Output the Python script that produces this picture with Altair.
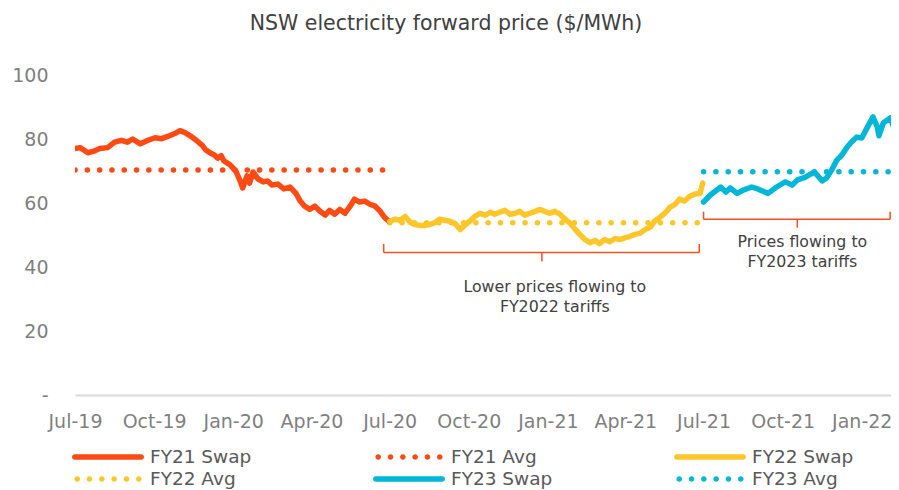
import altair as alt
import pandas as pd

# ---------------- data ----------------
fy21_dates = ["2019-07-01","2019-07-07","2019-07-16","2019-07-24","2019-07-30","2019-08-08","2019-08-16","2019-08-24","2019-08-31","2019-09-06","2019-09-15","2019-09-24","2019-10-02","2019-10-10","2019-10-17","2019-10-25","2019-10-31","2019-11-06","2019-11-12","2019-11-19","2019-11-26","2019-11-30","2019-12-05","2019-12-10","2019-12-14","2019-12-18","2019-12-21","2019-12-28","2020-01-04","2020-01-09","2020-01-12","2020-01-17","2020-01-20","2020-01-24","2020-01-30","2020-02-05","2020-02-10","2020-02-15","2020-02-22","2020-02-29","2020-03-07","2020-03-14","2020-03-19","2020-03-24","2020-03-30","2020-04-05","2020-04-11","2020-04-17","2020-04-22","2020-04-28","2020-05-04","2020-05-10","2020-05-16","2020-05-21","2020-05-27","2020-06-02","2020-06-08","2020-06-14","2020-06-20","2020-06-25","2020-06-30"]
fy21_values = [77,77.3,75.7,76.3,77,77.3,79,79.6,79,80,78.5,79.6,80.4,80.1,80.8,81.7,82.6,82,81,79.6,78,76.6,75.7,75,74,74.8,73.2,72,70,66.9,64.7,68.5,66.2,69.7,67.5,66.6,66.9,65.6,65.9,64.4,65,63,60.6,59,58,59,57.4,56.2,57.7,56.5,58,56.8,59,61.2,60.3,60.6,59.6,59,57.4,55.5,54.3]

fy22_dates = ["2020-07-01","2020-07-07","2020-07-13","2020-07-19","2020-07-25","2020-07-30","2020-08-05","2020-08-11","2020-08-17","2020-08-23","2020-08-28","2020-09-03","2020-09-09","2020-09-15","2020-09-21","2020-09-26","2020-10-02","2020-10-08","2020-10-14","2020-10-20","2020-10-26","2020-10-31","2020-11-06","2020-11-12","2020-11-18","2020-11-24","2020-11-29","2020-12-05","2020-12-11","2020-12-17","2020-12-23","2020-12-28","2021-01-03","2021-01-09","2021-01-15","2021-01-21","2021-01-27","2021-02-01","2021-02-07","2021-02-13","2021-02-19","2021-02-25","2021-03-02","2021-03-08","2021-03-14","2021-03-20","2021-03-26","2021-04-01","2021-04-06","2021-04-12","2021-04-18","2021-04-24","2021-04-30","2021-05-05","2021-05-11","2021-05-17","2021-05-23","2021-05-29","2021-06-03","2021-06-09","2021-06-15","2021-06-21","2021-06-27","2021-06-30"]
fy22_values = [54.3,54.9,54.6,55.8,53.9,53.3,53,53,53.3,53.9,54.9,54.6,54.3,53.6,51.7,53,54.3,55.8,56.8,56.2,57.1,56.5,57.1,57.7,56.5,56.8,57.4,56.2,56.8,57.4,58,57.4,56.8,57.4,56.5,54.9,53.6,52,50.2,48.6,47.6,48.3,47.3,48.6,47.9,48.9,48.6,49.2,49.5,50.2,50.5,51.7,52.4,54.3,55.5,56.8,58.7,59.6,61.2,60.6,62.1,62.8,63,66.2]

fy23_dates = ["2021-07-01","2021-07-09","2021-07-21","2021-07-27","2021-08-01","2021-08-09","2021-08-16","2021-08-26","2021-09-02","2021-09-14","2021-09-24","2021-10-04","2021-10-12","2021-10-18","2021-10-27","2021-11-07","2021-11-16","2021-11-21","2021-11-27","2021-12-03","2021-12-09","2021-12-15","2021-12-20","2021-12-26","2022-01-01","2022-01-07","2022-01-14","2022-01-19","2022-01-21","2022-01-26","2022-02-03","2022-02-07","2022-02-12"]
fy23_values = [60.3,62.5,65,63.4,64.7,63,64,65,64.4,63,65,66.6,65.6,67.2,68,69.7,66.9,67.8,70.3,73.4,75,77.5,79,80.6,80.3,83.4,86.9,83.8,81,85,86.6,83.8,82.5]

avg_series = ["FY21 Avg", "FY22 Avg", "FY23 Avg"]
avg_values = [70.3, 53.8, 69.8]
avg_start = ["2019-07-01", "2020-07-01", "2021-07-01"]
avg_end = ["2020-06-28", "2021-06-28", "2022-02-01"]

series_names = ["FY21 Swap", "FY21 Avg", "FY22 Swap", "FY22 Avg", "FY23 Swap", "FY23 Avg"]

tick_dates = ["2019-07-01", "2019-10-01", "2020-01-01", "2020-04-01", "2020-07-01", "2020-10-01",
              "2021-01-01", "2021-04-01", "2021-07-01", "2021-10-01", "2022-01-01"]
x_range = ["2019-07-01", "2022-02-04"]
y_ticks = [0, 20, 40, 60, 80, 100]

# bracket annotations (data units)
br_left = ["2020-06-24", "2021-07-01"]
br_right = ["2021-06-26", "2022-02-03"]
br_mid = ["2020-12-25", "2021-10-18"]
br_top = [47.2, 57.3]
br_line = [44.5, 54.9]
br_tip = [41.7, 52.3]

note_texts = ["Lower prices flowing to\nFY2022 tariffs", "Prices flowing to\nFY2023 tariffs"]
note_dates = ["2021-01-09", "2021-10-24"]
note_values = [33.7, 47.9]

# ---------------- styling ----------------
RED, YEL, CYA = "#FF4A14", "#FFC629", "#00B7D7"
series_colors = [RED, RED, YEL, YEL, CYA, CYA]
FONT = "DejaVu Sans"


def ms(d):
    return int(pd.Timestamp(d, tz="UTC").timestamp() * 1000)


# ---------------- frames ----------------
swap_df = pd.concat([
    pd.DataFrame({"date": fy21_dates, "value": fy21_values, "series": "FY21 Swap"}),
    pd.DataFrame({"date": fy22_dates, "value": fy22_values, "series": "FY22 Swap"}),
    pd.DataFrame({"date": fy23_dates, "value": fy23_values, "series": "FY23 Swap"}),
], ignore_index=True)

avg_rows = []
for s, v, a, b in zip(avg_series, avg_values, avg_start, avg_end):
    avg_rows.append({"date": a, "value": v, "series": s})
    avg_rows.append({"date": b, "value": v, "series": s})
avg_df = pd.DataFrame(avg_rows)

seg_rows = []
for l, r, m, t, ln, tp in zip(br_left, br_right, br_mid, br_top, br_line, br_tip):
    seg_rows += [
        {"x": l, "x2": l, "y": t, "y2": ln},
        {"x": l, "x2": r, "y": ln, "y2": ln},
        {"x": r, "x2": r, "y": t, "y2": ln},
        {"x": m, "x2": m, "y": ln, "y2": tp},
    ]
seg_df = pd.DataFrame(seg_rows)

note_df = pd.DataFrame({"date": note_dates, "value": note_values, "text": note_texts})
legend_df = pd.DataFrame({"series": series_names, "date": x_range[0], "value": 0})

# ---------------- scales / axes ----------------
x_scale = alt.Scale(type="utc", domain=[ms(d) for d in x_range])
y_scale = alt.Scale(domain=[0, 100], nice=False, zero=True)
color_scale = alt.Scale(domain=series_names, range=series_colors)
# same mapping, listed in another order so that its (hidden) legend stays separate
order = [0, 2, 4, 1, 3, 5]
stroke_scale = alt.Scale(domain=[series_names[i] for i in order],
                         range=[series_colors[i] for i in order])

x_axis = alt.Axis(
    values=[ms(d) for d in tick_dates],
    labelExpr="utcFormat(datum.value, '%b-%y')",
    grid=False, ticks=False, domain=True, domainColor="#D9D9D9", domainWidth=2,
    labelFont=FONT, labelFontSize=19, labelColor="#7F7F7F", labelPadding=17,
    labelOverlap=False, labelFlush=False, title=None,
)
y_axis = alt.Axis(
    values=y_ticks,
    labelExpr="datum.value == 0 ? '-\u00a0\u00a0\u00a0' : datum.label",
    grid=False, ticks=False, domain=False,
    labelFont=FONT, labelFontSize=19, labelColor="#7F7F7F", labelPadding=27, title=None,
)

X = alt.X("date:T", scale=x_scale, axis=x_axis, title=None)
Y = alt.Y("value:Q", scale=y_scale, axis=y_axis, title=None)

# custom legend symbols (unit square, scaled by the symbol size)
h = 0.078
line_path = (f"M{-1+h:.3f},{-h} L{1-h:.3f},{-h} A{h},{h} 0 0 1 {1-h:.3f},{h} "
             f"L{-1+h:.3f},{h} A{h},{h} 0 0 1 {-1+h:.3f},{-h} Z")
r = 0.078
dot_path = " ".join(
    f"M{cx-r:.3f},0 A{r},{r} 0 1 0 {cx+r:.3f},0 A{r},{r} 0 1 0 {cx-r:.3f},0 Z"
    for cx in [-0.855, -0.513, -0.171, 0.171, 0.513, 0.855])
shape_range = [line_path, dot_path, line_path, dot_path, line_path, dot_path]

legend = alt.Legend(
    title=None, orient="none", direction="horizontal", legendX=-3, legendY=372.5, columns=3,
    columnPadding=121, rowPadding=3, padding=0, clipHeight=19,
    labelFont=FONT, labelFontSize=18.5, labelColor="#595959", labelOffset=6, labelLimit=300,
    symbolSize=5184, symbolStrokeWidth=0, symbolOpacity=1,
)

avg_layer = alt.Chart(avg_df).mark_line(
    strokeWidth=5.5, strokeCap="round", strokeDash=[0.1, 12.2], clip=True
).encode(
    x=X, y=Y,
    stroke=alt.Stroke("series:N", scale=stroke_scale, legend=None),
    detail="series:N",
)

swap_layer = alt.Chart(swap_df).mark_line(
    strokeWidth=5.5, strokeCap="round", strokeJoin="round", clip=True
).encode(
    x=X, y=Y,
    stroke=alt.Stroke("series:N", scale=stroke_scale, legend=None),
    detail="series:N",
)

bracket_layer = alt.Chart(seg_df).mark_rule(color="#F4511E", strokeWidth=1.5).encode(
    x=alt.X("x:T", scale=x_scale, axis=x_axis, title=None),
    x2="x2:T",
    y=alt.Y("y:Q", scale=y_scale, axis=y_axis, title=None),
    y2="y2:Q",
)

note_layer = alt.Chart(note_df).mark_text(
    font=FONT, fontSize=15.8, color="#404040", align="center", baseline="middle",
    lineBreak="\n", lineHeight=20,
).encode(x=X, y=Y, text="text:N")

legend_layer = alt.Chart(legend_df).mark_point(
    filled=True, opacity=1, size=5184
).encode(
    x=X, y=Y,
    color=alt.Color("series:N", scale=color_scale, legend=legend),
    shape=alt.Shape("series:N", scale=alt.Scale(domain=series_names, range=shape_range), legend=legend),
).transform_filter("datum.value > 1000")

chart = alt.layer(avg_layer, swap_layer, bracket_layer, note_layer, legend_layer).properties(
    width=816, height=320,
    padding={"left": 67, "top": 67, "right": 0, "bottom": 96},
    autosize=alt.AutoSizeParams(type="none"),
    title=alt.TitleParams(
        "NSW electricity forward price ($/MWh)",
        font=FONT, fontSize=20.5, fontWeight="normal", color="#404040",
        anchor="middle", dx=-37, offset=32,
    ),
).configure(background="white").configure_view(stroke=None)

chart.save("out.html", embed_options={"renderer": "svg", "actions": False})
